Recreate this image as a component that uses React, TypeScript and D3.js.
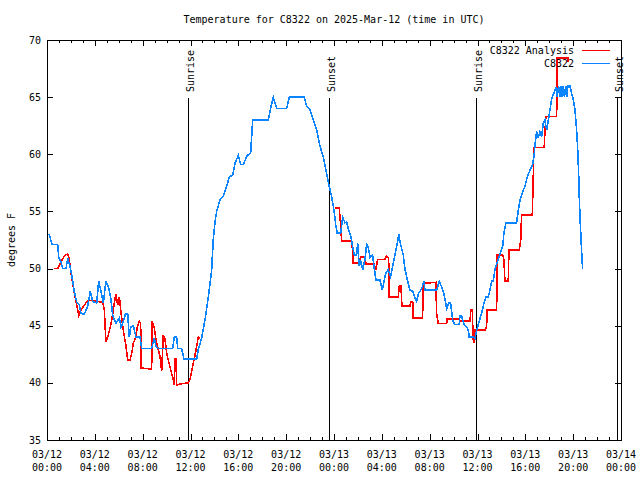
import * as d3 from "d3"
import { useEffect, useRef } from "react"

const W = 640
const H = 480
const margin = { top: 40, right: 19, bottom: 40, left: 47 }
const FONT = "'DejaVu Sans Mono', 'Liberation Mono', monospace"
const RED = "#ff0000"
const BLUE = "#0a84ff"

// hours since 03/12 00:00 UTC, temperature in F
const analysisNight1: [number, number][] = [
  [0.61, 50.0], [0.89, 50.0], [1.17, 50.6], [1.45, 51.1], [1.73, 51.3], [1.86, 50.8], [2.01, 49.6],
  [2.15, 48.7], [2.37, 47.4], [2.57, 46.4], [2.65, 45.9], [2.84, 46.4], [3.4, 47.2], [3.95, 47.2],
  [4.37, 47.1], [4.66, 47.1], [4.79, 46.4], [4.93, 43.6], [5.08, 44.0], [5.27, 44.8], [5.43, 45.6],
  [5.63, 47.0], [5.77, 47.8], [5.91, 46.8], [6.05, 47.5], [6.19, 46.1], [6.38, 44.6], [6.61, 43.2],
  [6.75, 42.0], [6.94, 42.0], [7.11, 42.7], [7.22, 43.5], [7.44, 44.0], [7.55, 44.9], [7.72, 45.4],
  [7.83, 45.2], [7.88, 41.3], [8.75, 41.2], [8.8, 45.4], [8.97, 44.8], [9.11, 43.8], [9.31, 42.9],
  [9.45, 42.3], [9.59, 41.0], [9.67, 42.9], [9.72, 44.2], [9.87, 43.8], [10.01, 42.6], [10.14, 42.0],
  [10.28, 41.4], [10.43, 40.8], [10.56, 40.3], [10.64, 39.8], [10.7, 42.1], [10.79, 42.1], [10.84, 39.8],
  [11.12, 39.9], [11.81, 40.0], [11.96, 40.3], [12.1, 41.0], [12.23, 41.7], [12.37, 42.4], [12.52, 43.2],
  [12.65, 44.0], [12.79, 43.9],
]

const analysisNight2: [number, number][] = [
  [24.08, 55.3], [24.44, 55.3], [24.56, 53.7], [24.64, 52.4], [25.48, 52.4], [25.56, 51.5], [25.61, 50.5],
  [26.11, 50.5], [26.23, 51.0], [26.59, 51.0], [26.67, 50.4], [27.34, 50.4], [27.51, 50.0], [27.65, 50.8],
  [28.26, 50.8], [28.4, 51.1], [28.57, 50.9], [28.62, 47.5], [29.37, 47.5], [29.46, 48.5], [29.6, 48.5],
  [29.68, 46.7], [30.35, 46.7], [30.41, 47.1], [30.58, 47.1], [30.63, 45.7], [31.41, 45.7], [31.46, 48.7],
  [32.52, 48.8], [32.58, 46.1], [32.72, 45.2], [33.42, 45.2], [33.47, 45.6], [34.47, 45.6], [34.53, 45.4],
  [35.37, 45.4], [35.45, 46.4], [35.56, 46.4], [35.64, 43.8], [35.72, 43.5], [35.81, 44.6], [36.62, 44.6],
  [36.76, 44.9], [36.81, 46.4], [37.6, 46.4], [37.65, 51.2], [38.1, 51.2], [38.21, 50.8], [38.29, 48.9],
  [38.57, 48.9], [38.63, 51.6], [39.49, 51.6], [39.61, 52.4], [39.69, 54.7], [40.58, 54.7], [40.66, 57.8],
  [40.72, 60.6], [41.58, 60.6], [41.64, 62.0], [41.72, 63.3], [42.62, 63.3], [42.64, 65.9], [42.67, 68.4],
  [43.59, 68.4], [43.59, 68.1],
]

const observed: [number, number][] = [
  [0.19, 53.0], [0.42, 52.1], [0.89, 52.1], [0.98, 51.0], [1.17, 50.6], [1.31, 50.0], [1.59, 50.0],
  [1.73, 50.9], [1.92, 50.2], [2.09, 49.3], [2.28, 48.0], [2.48, 47.1], [2.7, 46.8], [2.84, 46.1],
  [3.12, 46.0], [3.4, 46.7], [3.62, 48.0], [3.82, 47.1], [4.16, 47.0], [4.32, 48.9], [4.52, 48.0],
  [4.71, 47.0], [4.93, 48.9], [5.16, 48.3], [5.35, 47.3], [5.49, 45.9], [5.77, 45.2], [6.05, 45.7],
  [6.19, 44.9], [6.33, 45.2], [6.55, 46.0], [6.75, 46.0], [6.88, 44.0], [7.02, 44.9], [7.22, 45.0],
  [7.44, 44.0], [7.78, 44.0], [7.92, 43.0], [8.75, 43.0], [8.89, 43.6], [8.97, 43.9], [9.11, 43.2],
  [9.31, 43.0], [10.51, 43.0], [10.64, 44.0], [10.84, 44.0], [10.93, 43.0], [11.26, 43.0], [11.45, 42.1],
  [12.52, 42.1], [12.65, 42.9], [12.93, 43.9], [13.21, 45.5], [13.49, 47.5], [13.77, 49.9], [13.9, 52.5],
  [14.05, 54.1], [14.19, 55.0], [14.46, 56.0], [14.74, 56.3], [15.03, 57.2], [15.24, 58.0], [15.53, 58.2],
  [15.72, 59.2], [16.0, 59.9], [16.2, 59.1], [16.41, 59.1], [16.75, 59.9], [17.03, 60.1], [17.2, 63.0],
  [18.5, 63.0], [18.7, 64.0], [18.92, 65.0], [19.21, 64.0], [20.04, 64.0], [20.26, 65.0], [21.51, 65.0],
  [21.71, 64.2], [21.99, 63.9], [22.27, 63.0], [22.55, 62.1], [22.83, 60.7], [23.1, 59.8], [23.39, 58.3],
  [23.6, 57.2], [23.8, 56.3], [24.0, 55.1], [24.16, 53.7], [24.27, 53.1], [24.56, 53.1], [24.72, 54.5],
  [24.92, 54.0], [25.06, 54.1], [25.19, 53.5], [25.39, 52.9], [25.56, 51.9], [25.69, 51.2], [25.89, 51.2],
  [25.98, 52.2], [26.11, 50.2], [26.25, 50.6], [26.4, 49.9], [26.59, 50.8], [26.73, 52.1], [26.86, 51.9],
  [27.01, 51.0], [27.23, 51.2], [27.34, 50.2], [27.51, 49.0], [27.84, 49.0], [28.04, 48.1], [28.18, 48.9],
  [28.34, 49.6], [28.54, 49.9], [28.74, 49.3], [28.9, 50.2], [29.1, 51.2], [29.29, 52.2], [29.41, 53.0],
  [29.57, 52.1], [29.79, 51.2], [29.93, 50.0], [30.13, 49.0], [30.35, 48.1], [30.58, 48.0], [30.77, 47.4],
  [30.91, 47.1], [31.05, 47.8], [31.19, 48.0], [31.38, 48.4], [31.52, 48.9], [31.61, 48.1], [32.58, 48.1],
  [32.8, 48.9], [33.0, 48.4], [33.14, 48.0], [33.28, 47.3], [33.42, 46.5], [33.61, 47.0], [33.75, 47.0],
  [33.84, 46.2], [33.92, 45.5], [34.11, 45.1], [34.47, 45.1], [34.53, 45.9], [34.67, 45.9], [34.76, 45.5],
  [34.87, 45.1], [35.09, 44.9], [35.23, 44.6], [35.31, 44.0], [35.64, 44.0], [35.79, 43.9], [35.93, 44.6],
  [36.06, 45.1], [36.2, 45.6], [36.35, 46.1], [36.54, 47.0], [36.71, 47.5], [36.9, 47.5], [37.04, 48.1],
  [37.18, 48.9], [37.32, 48.9], [37.46, 49.9], [37.73, 50.8], [37.88, 51.3], [38.1, 51.9], [38.21, 53.1],
  [38.38, 54.0], [39.27, 54.0], [39.41, 55.1], [39.55, 56.0], [39.77, 56.7], [39.97, 57.2], [40.16, 58.0],
  [40.38, 58.6], [40.61, 59.1], [40.72, 59.8], [40.8, 60.7], [40.94, 62.0], [41.08, 61.4], [41.22, 62.0],
  [41.36, 61.5], [41.5, 62.7], [41.64, 63.0], [41.78, 62.1], [41.91, 62.9], [42.06, 63.9], [42.2, 64.8],
  [42.33, 65.2], [42.56, 65.9], [42.67, 65.0], [42.78, 66.0], [42.88, 65.0], [42.98, 66.0], [43.07, 65.0],
  [43.17, 66.0], [43.27, 65.0], [43.37, 66.0], [43.46, 65.0], [43.56, 66.0], [43.73, 66.0], [43.87, 65.3],
  [44.01, 64.8], [44.15, 63.9], [44.29, 62.1], [44.37, 60.7], [44.46, 58.3], [44.51, 56.3], [44.57, 54.5],
  [44.65, 52.8], [44.73, 51.0], [44.79, 50.0],
]

const sunHours = [11.81, 23.6, 35.84, 47.63]
const sunLabels = ["Sunrise", "Sunset", "Sunrise", "Sunset"]

const xTickHours = [0, 4, 8, 12, 16, 20, 24, 28, 32, 36, 40, 44, 48]
const xTickDates = ["03/12", "03/12", "03/12", "03/12", "03/12", "03/12", "03/13", "03/13", "03/13", "03/13", "03/13", "03/13", "03/14"]
const xTickTimes = ["00:00", "04:00", "08:00", "12:00", "16:00", "20:00", "00:00", "04:00", "08:00", "12:00", "16:00", "20:00", "00:00"]
const yTicks = [35, 40, 45, 50, 55, 60, 65, 70]

export default function App() {
  const svgRef = useRef<SVGSVGElement | null>(null)

  useEffect(() => {
    if (!svgRef.current) return
    const svg = d3.select(svgRef.current)
    svg.selectAll("*").remove()

    const x = d3.scaleLinear().domain([0, 48]).range([margin.left, W - margin.right])
    const y = d3.scaleLinear().domain([35, 70]).range([H - margin.bottom, margin.top])
    const top = margin.top
    const bottom = H - margin.bottom
    const left = margin.left
    const right = W - margin.right

    // Title
    svg
      .append("text")
      .attr("x", (left + right) / 2)
      .attr("y", 23)
      .attr("text-anchor", "middle")
      .style("font-family", FONT)
      .style("font-size", "10px")
      .text("Temperature for C8322 on 2025-Mar-12 (time in UTC)")

    // Y label
    svg
      .append("text")
      .attr("transform", `translate(15,${(top + bottom) / 2}) rotate(-90)`)
      .attr("text-anchor", "middle")
      .style("font-family", FONT)
      .style("font-size", "10px")
      .text("degrees F")

    const ticks = svg.append("g").attr("stroke", "#000").attr("shape-rendering", "crispEdges")

    // x ticks, hourly minor, 4-hourly major, top and bottom
    d3.range(0, 49).forEach((h) => {
      const len = h % 4 === 0 ? 6 : 3
      const px = Math.round(x(h)) + 0.5
      ticks.append("line").attr("x1", px).attr("x2", px).attr("y1", bottom).attr("y2", bottom - len)
      ticks.append("line").attr("x1", px).attr("x2", px).attr("y1", top).attr("y2", top + len)
    })

    // y ticks left and right
    yTicks.forEach((v) => {
      const py = Math.round(y(v)) + 0.5
      ticks.append("line").attr("x1", left).attr("x2", left + 6).attr("y1", py).attr("y2", py)
      ticks.append("line").attr("x1", right).attr("x2", right - 6).attr("y1", py).attr("y2", py)
      svg
        .append("text")
        .attr("x", left - 6)
        .attr("y", y(v))
        .attr("dy", "0.35em")
        .attr("text-anchor", "end")
        .style("font-family", FONT)
        .style("font-size", "10px")
        .text(String(v))
    })

    // x tick labels, two lines
    xTickHours.forEach((h, i) => {
      const t = svg
        .append("text")
        .attr("text-anchor", "middle")
        .style("font-family", FONT)
        .style("font-size", "10px")
      t.append("tspan").attr("x", x(h)).attr("y", 458).text(xTickDates[i])
      t.append("tspan").attr("x", x(h)).attr("y", 471).text(xTickTimes[i])
    })

    // Sunrise / sunset markers
    sunHours.forEach((h, i) => {
      const px = Math.round(x(h)) + 0.5
      svg
        .append("line")
        .attr("x1", px)
        .attr("x2", px)
        .attr("y1", 98)
        .attr("y2", bottom)
        .attr("stroke", "#000")
        .attr("shape-rendering", "crispEdges")
      svg
        .append("text")
        .attr("transform", `translate(${px + 5},92) rotate(-90)`)
        .attr("text-anchor", "start")
        .style("font-family", FONT)
        .style("font-size", "10px")
        .text(sunLabels[i])
    })

    const line = d3
      .line<[number, number]>()
      .x((d) => x(d[0]))
      .y((d) => y(d[1]))

    const series = [
      { data: analysisNight1, color: RED },
      { data: analysisNight2, color: RED },
      { data: observed, color: BLUE },
    ]
    series.forEach((s) => {
      svg
        .append("path")
        .datum(s.data)
        .attr("d", line)
        .attr("fill", "none")
        .attr("stroke", s.color)
        .attr("stroke-width", 1.6)
        .attr("shape-rendering", "crispEdges")
    })

    // Legend
    const legend = [
      { label: "C8322 Analysis", color: RED, y: 50 },
      { label: "C8322", color: BLUE, y: 63 },
    ]
    legend.forEach((l) => {
      svg
        .append("text")
        .attr("x", 574)
        .attr("y", l.y)
        .attr("dy", "0.35em")
        .attr("text-anchor", "end")
        .style("font-family", FONT)
        .style("font-size", "10px")
        .text(l.label)
      svg
        .append("line")
        .attr("x1", 582)
        .attr("x2", 610)
        .attr("y1", l.y + 0.5)
        .attr("y2", l.y + 0.5)
        .attr("stroke", l.color)
        .attr("shape-rendering", "crispEdges")
    })

    // Border
    svg
      .append("rect")
      .attr("x", left + 0.5)
      .attr("y", top + 0.5)
      .attr("width", right - left)
      .attr("height", bottom - top)
      .attr("fill", "none")
      .attr("stroke", "#000")
      .attr("shape-rendering", "crispEdges")
  }, [])

  return (
    <svg
      ref={svgRef}
      width={W}
      height={H}
      style={{ position: "absolute", left: 0, top: 0, background: "#fff" }}
      xmlns="http://www.w3.org/2000/svg"
    />
  )
}
